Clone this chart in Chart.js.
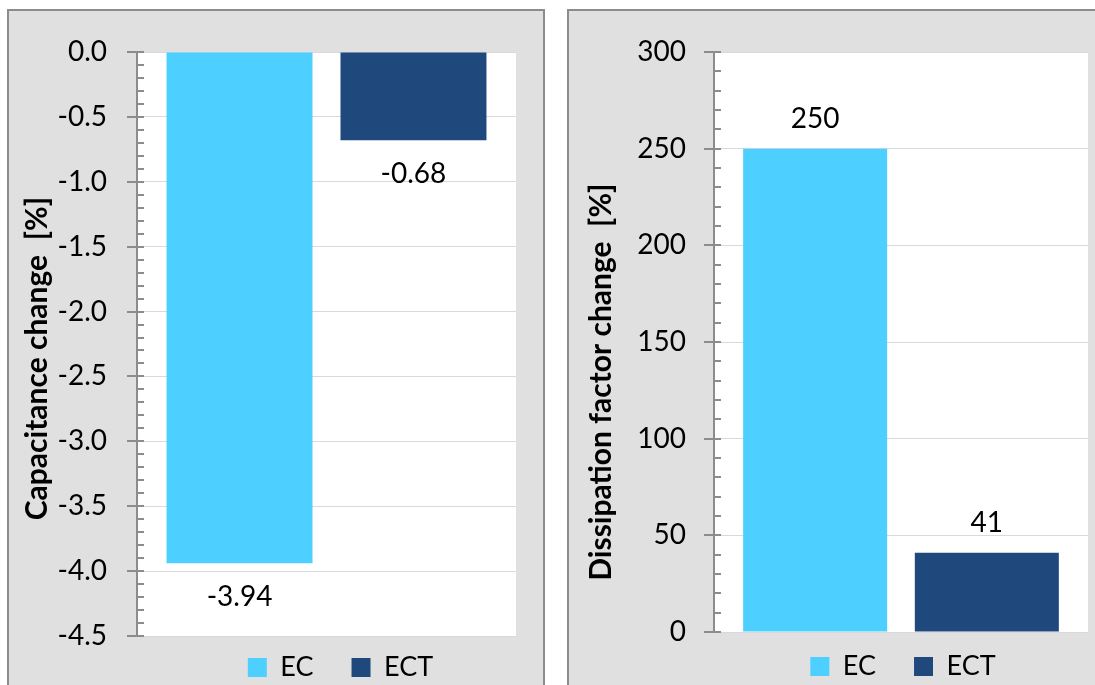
<!DOCTYPE html>
<html><head><meta charset="utf-8">
<script src="https://cdn.jsdelivr.net/npm/chart.js@4.4.0/dist/chart.umd.min.js"></script>
<style>
body{margin:0;background:#fff;width:1095px;height:685px;overflow:hidden;position:relative;font-family:Lato,sans-serif}
.panel{position:absolute;top:9px;height:700px;background:#e0e0e0;border:2px solid #8c8c8c;box-sizing:border-box}
#p1{left:7px;width:538px}
#p2{left:567px;width:600px}
.cw{position:absolute}
</style></head><body>
<div class="panel" id="p1"></div><div class="panel" id="p2"></div>
<div class="cw" style="left:9px;top:11px;width:533px;height:674px"><canvas id="c1"></canvas></div>
<div class="cw" style="left:569px;top:11px;width:526px;height:674px"><canvas id="c2"></canvas></div>
<script>
// ---- data ----
const seriesNames = ['EC', 'ECT'];
const seriesColors = ['#4dcfff', '#1f497d'];
const capacitanceChange = [-3.94, -0.68];
const dissipationChange = [250, 41];
const capTickValues = [0, -0.5, -1, -1.5, -2, -2.5, -3, -3.5, -4, -4.5];
const capTickLabels = ['0.0', '-0.5', '-1.0', '-1.5', '-2.0', '-2.5', '-3.0', '-3.5', '-4.0', '-4.5'];
const dfTickValues = [0, 50, 100, 150, 200, 250, 300];
const dfTickLabels = ['0', '50', '100', '150', '200', '250', '300'];

const AXIS = '#8c8c8c';
const GRID = '#d9d9d9';

const plotBg = {
  id: 'plotBg',
  beforeDraw(chart) {
    const a = chart.chartArea, ctx = chart.ctx;
    ctx.save(); ctx.fillStyle = '#fff';
    ctx.fillRect(a.left, a.top, a.right - a.left, a.bottom - a.top);
    ctx.restore();
  }
};
const axisTicks = {
  id: 'axisTicks',
  afterDraw(chart, args, opts) {
    const s = chart.scales.y, ctx = chart.ctx, x = s.right;
    ctx.save(); ctx.strokeStyle = AXIS; ctx.lineWidth = 2;
    ctx.beginPath();
    s.ticks.forEach(t => {
      const y = Math.round(s.getPixelForValue(t.value));
      ctx.moveTo(x - 10, y); ctx.lineTo(x + 7, y);
    });
    const n = Math.round((s.max - s.min) / opts.minor);
    for (let i = 0; i <= n; i++) {
      const y = Math.round(s.getPixelForValue(s.min + i * opts.minor));
      ctx.moveTo(x, y); ctx.lineTo(x + 7, y);
    }
    ctx.stroke(); ctx.restore();
  }
};
const valueLabels = {
  id: 'valueLabels',
  afterDatasetsDraw(chart, args, opts) {
    const ctx = chart.ctx;
    ctx.save();
    ctx.font = '28px Lato'; ctx.fillStyle = '#000';
    ctx.textAlign = 'center'; ctx.textBaseline = 'middle';
    chart.data.datasets.forEach((ds, i) => {
      const el = chart.getDatasetMeta(i).data[0];
      const v = ds.data[0];
      const y = v < 0 ? el.y + opts.offset : el.y - opts.offset;
      ctx.fillText(opts.fmt(v), el.x, y);
    });
    ctx.restore();
  }
};
const legendShift = {
  id: 'legendShift',
  afterLayout(chart, args, opts) {
    const l = chart.legend;
    l.left += opts.dx; l.right += opts.dx;
    l.top += opts.dy;
  }
};

function makeChart(id, values, tickVals, tickLabels, min, max, minor, title, cfg) {
  return new Chart(document.getElementById(id), {
    type: 'bar',
    data: {
      labels: [''],
      datasets: seriesNames.map((n, i) => ({
        label: n, data: [values[i]], backgroundColor: seriesColors[i],
        categoryPercentage: 0.918, barPercentage: 0.839
      }))
    },
    options: {
      responsive: true, maintainAspectRatio: false, animation: false,
      layout: { padding: { top: 41, right: cfg.right, bottom: 0, left: 0 } },
      scales: {
        x: { display: false },
        y: {
          min: min, max: max,
          afterBuildTicks: s => { s.ticks = tickVals.map(v => ({ value: v })); },
          afterFit: s => { s.width = cfg.axisW; },
          ticks: {
            padding: 0, color: '#000', font: { family: 'Lato', size: 28 },
            callback: (v) => tickLabels[tickVals.indexOf(v)]
          },
          grid: { color: GRID, lineWidth: 1, drawTicks: true, tickLength: cfg.tickGap, tickColor: 'rgba(0,0,0,0)' },
          border: { display: true, color: AXIS, width: 2 },
          title: {
            display: true, text: title, color: '#000',
            font: { family: 'Lato', size: 30, weight: 'bold' },
            padding: { top: cfg.titlePad, bottom: 0 }
          }
        }
      },
      plugins: {
        tooltip: { enabled: false },
        legend: {
          position: 'bottom', fullSize: false, maxHeight: cfg.legendH,
          labels: {
            boxWidth: 19, boxHeight: 19, padding: 38, color: '#000',
            font: { family: 'Lato', size: 27 }
          }
        },
        axisTicks: { minor: minor },
        valueLabels: cfg.labels,
        legendShift: cfg.legendShift
      }
    },
    plugins: [plotBg, axisTicks, valueLabels, legendShift]
  });
}

document.fonts.load('28px Lato').then(() => document.fonts.load('bold 30px Lato')).finally(() => {
  makeChart('c1', capacitanceChange, capTickValues, capTickLabels, -4.5, 0, 0.1,
    'Capacitance change  [%]    ',
    { right: 26, axisW: 128, tickGap: 30, titlePad: 10, legendH: 49,
      labels: { offset: 34, fmt: v => v.toFixed(2) }, legendShift: { dx: 14, dy: -20 } });
  makeChart('c2', dissipationChange, dfTickValues, dfTickLabels, 0, 300, 10,
    'Dissipation factor change  [%]           ',
    { right: 7, axisW: 145, tickGap: 28, titlePad: 14, legendH: 53,
      labels: { offset: 30, fmt: v => String(v) }, legendShift: { dx: 2, dy: -17 } });
});
</script>
</body></html>
